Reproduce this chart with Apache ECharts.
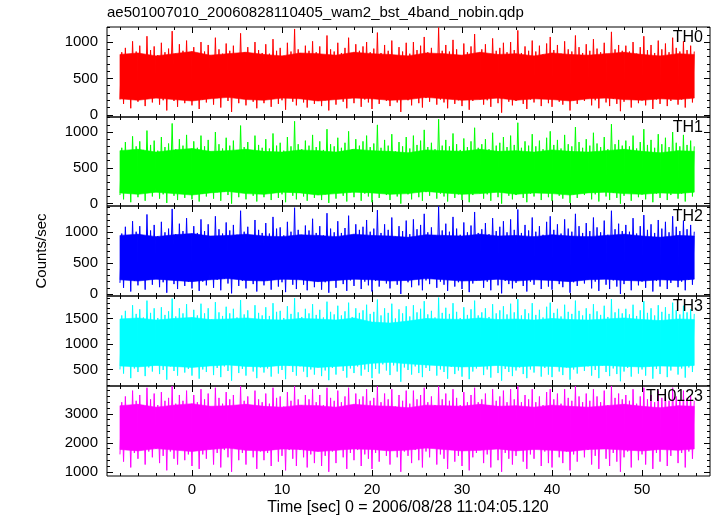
<!DOCTYPE html>
<html><head><meta charset="utf-8">
<script src="https://cdn.jsdelivr.net/npm/echarts@6/dist/echarts.min.js"></script>
<style>html,body{margin:0;padding:0;background:#fff}#c{width:717px;height:516px}</style>
</head><body><div id="c"></div>
<script>
const chartTitle = 'ae501007010_20060828110405_wam2_bst_4band_nobin.qdp';
const xTitle = 'Time [sec] 0 = 2006/08/28 11:04:05.120';
const yTitle = 'Counts/sec';
const bandNames = ['TH0', 'TH1', 'TH2', 'TH3', 'TH0123'];
const bandColors = ['#ff0000', '#00ff00', '#0000ff', '#00ffff', '#ff00ff'];
const tStart = -8;
const tStep = 0.2;      // step of the light-curve samples below (alternating bin low / bin high)
const coreStep = 2;     // step of the dense-core envelope samples
const tEnd = 55.8;

const th0 = [
210,860,150,920,260,800,90,1010,230,870,180,950,300,830,120,1080,240,890,170,940,
280,820,140,990,200,860,60,910,250,1150,190,840,110,970,270,880,160,1020,220,800,
130,930,260,850,80,1000,210,870,170,960,290,790,140,1060,230,900,100,840,250,980,
190,880,40,950,270,820,160,1120,220,860,130,930,300,810,180,1000,90,890,240,850,
160,970,230,840,110,1040,280,880,150,920,200,810,70,990,250,870,180,1180,130,900,
260,830,170,950,100,880,220,1010,150,860,290,940,120,820,200,1090,60,900,240,870,
140,990,270,850,180,920,90,1060,230,830,160,970,250,880,110,940,210,1000,170,860,
80,910,220,1130,150,850,280,960,190,880,120,1020,260,800,170,930,40,870,230,990,
200,840,130,1000,250,890,160,950,100,1070,230,860,180,920,280,830,140,1200,210,880,
170,960,90,870,240,1030,150,900,200,820,120,980,260,860,70,940,190,1110,230,850,
250,900,140,970,200,830,110,1050,270,880,160,920,30,990,220,860,180,1000,130,890,
190,1160,240,850,150,940,80,880,210,1020,170,870,290,950,120,830,230,980,160,1070,
110,890,260,960,180,840,140,1010,230,900,60,870,200,1090,150,930,270,850,190,970,
240,880,130,1040,200,910,90,860,260,990,170,830,120,1140,220,900,150,960,50,880,
180,950,230,870,100,1000,270,840,160,930,200,1080,130,890,250,960,80,850,210,1020,
150,900,240,980,120,860,190,1060,260,920,140,870,210,1010,100,890,230,950,170,870
];
const th1 = [
120,780,60,860,180,720,20,940,150,800,90,870,200,750,40,1020,160,820,100,880,
210,740,70,930,130,790,10,840,170,1120,110,760,50,900,190,810,80,960,140,730,
60,870,180,780,30,950,140,800,100,890,210,720,70,1000,160,830,40,770,170,920,
120,810,0,880,190,750,90,1090,150,790,60,860,220,740,110,950,30,820,170,780,
90,900,160,770,50,980,200,810,80,850,130,740,20,930,180,800,110,1150,60,830,
180,760,100,880,40,810,150,960,80,790,210,870,50,750,130,1040,10,830,170,800,
70,920,190,780,110,850,30,1010,160,760,90,900,180,810,40,870,140,950,100,790,
20,840,150,1100,80,780,200,890,120,810,50,970,190,730,100,860,0,800,160,930,
130,770,60,950,180,820,90,880,40,1030,160,790,110,850,210,760,70,1180,140,810,
100,890,30,800,170,980,80,830,130,750,50,910,190,790,20,870,120,1060,160,780,
180,830,70,900,130,760,40,990,200,810,90,850,0,930,150,790,110,950,60,820,
120,1130,170,780,80,870,20,810,140,970,100,800,220,880,50,760,160,920,90,1010,
40,820,190,890,110,770,70,960,160,830,10,800,130,1070,80,860,200,780,120,900,
170,810,60,990,130,840,30,790,190,930,100,760,50,1110,150,830,80,890,0,810,
110,880,160,800,40,950,200,770,90,860,130,1040,60,820,180,890,20,780,140,970,
80,830,170,920,50,790,120,1000,190,850,70,800,140,960,30,820,160,880,100,800
];
const th2 = [
180,980,100,1090,260,920,40,1180,210,1010,140,1100,290,950,70,1290,230,1030,150,1120,
300,940,110,1170,190,1000,20,1060,250,1380,160,970,80,1140,280,1020,130,1230,200,930,
90,1100,270,990,50,1210,200,1020,140,1130,310,910,100,1260,230,1050,60,980,250,1160,
170,1030,10,1120,280,960,130,1350,210,1010,90,1090,320,940,160,1200,40,1040,240,990,
140,1150,220,980,70,1250,300,1060,120,1080,190,950,30,1170,260,1010,150,1400,80,1040,
260,960,150,1110,60,1030,210,1220,110,990,310,1100,70,950,190,1310,20,1060,230,1000,
100,1180,280,990,160,1070,50,1270,220,960,130,1130,250,1040,80,1090,200,1200,140,1010,
40,1060,210,1360,120,990,300,1130,170,1040,90,1240,270,930,150,1100,0,1020,230,1190,
190,970,110,1210,250,1050,140,1120,60,1300,220,1000,160,1080,300,950,100,1420,200,1030,
150,1140,50,1010,240,1250,120,1060,190,960,80,1160,270,1000,30,1110,170,1330,220,990,
260,1050,100,1150,200,970,60,1230,280,1020,140,1090,10,1180,210,1000,160,1210,90,1040,
180,1370,240,990,130,1120,40,1030,200,1240,150,1010,310,1100,80,960,230,1170,120,1260,
70,1040,270,1130,160,980,110,1210,230,1060,20,1010,190,1300,130,1100,280,990,170,1150,
240,1020,90,1240,200,1080,50,1000,260,1190,150,960,80,1350,220,1050,120,1140,0,1020,
160,1120,230,1010,60,1230,290,980,140,1100,200,1280,100,1040,250,1130,40,990,210,1200,
120,1060,250,1170,80,1000,180,1260,270,1090,110,1020,200,1190,60,1050,230,1120,150,1010
];
const th3 = [
500,1560,420,1650,580,1480,330,1760,520,1590,450,1680,610,1520,370,1850,540,1610,460,1700,
600,1510,410,1720,490,1570,300,1640,560,1890,470,1540,380,1700,590,1600,440,1780,510,1500,
380,1670,580,1560,320,1790,500,1600,450,1700,620,1480,390,1820,530,1620,350,1550,560,1730,
470,1600,280,1690,590,1520,430,1860,510,1580,380,1660,640,1490,460,1760,330,1610,540,1560,
440,1720,520,1550,360,1800,610,1630,420,1650,490,1510,310,1740,570,1590,450,1900,380,1620,
560,1530,460,1690,350,1600,500,1780,400,1570,620,1670,370,1520,480,1830,290,1630,530,1580,
400,1750,590,1560,470,1640,340,1810,520,1530,430,1700,560,1610,380,1660,500,1770,450,1590,
330,1630,510,1870,420,1560,600,1700,480,1610,390,1790,580,1500,460,1680,260,1600,540,1740,
490,1540,400,1760,560,1620,430,1690,350,1840,530,1580,470,1650,620,1520,380,1910,500,1610,
450,1710,320,1590,550,1800,410,1630,480,1510,360,1720,590,1570,310,1680,460,1850,520,1560,
570,1620,390,1700,500,1530,340,1780,610,1600,430,1660,280,1740,510,1580,450,1790,370,1620,
480,1880,540,1560,410,1680,330,1600,500,1800,440,1570,630,1670,360,1520,530,1730,400,1810,
350,1610,590,1690,460,1540,390,1770,540,1630,300,1590,500,1850,420,1650,610,1560,470,1700,
560,1590,380,1780,490,1640,330,1570,580,1750,450,1530,370,1880,520,1620,410,1690,270,1600,
460,1690,530,1580,360,1770,600,1550,420,1660,500,1840,380,1610,560,1700,320,1560,510,1760,
410,1630,570,1720,350,1590,480,1810,590,1660,400,1580,520,1750,340,1620,540,1680,450,1590
];
const th0123 = [
1600,3400,1350,3600,1750,3250,1150,3800,1650,3450,1450,3650,1850,3300,1250,3900,1700,3500,1500,3700,
1800,3300,1300,3750,1550,3450,1050,3550,1700,3950,1450,3350,1250,3650,1850,3450,1400,3800,1600,3250,
1200,3650,1750,3400,1100,3850,1600,3500,1450,3700,1900,3200,1250,3900,1650,3550,1150,3350,1750,3750,
1500,3500,1000,3650,1800,3300,1400,3950,1650,3450,1250,3600,1900,3250,1500,3800,1100,3500,1700,3400,
1400,3700,1650,3350,1200,3900,1850,3550,1350,3600,1550,3250,1050,3750,1750,3450,1450,3950,1200,3500,
1750,3300,1500,3650,1150,3500,1600,3850,1300,3400,1900,3650,1200,3300,1550,3900,1000,3550,1700,3450,
1300,3800,1800,3400,1500,3600,1100,3900,1650,3300,1400,3700,1750,3500,1200,3600,1600,3850,1450,3450,
1100,3550,1650,3950,1350,3400,1850,3700,1550,3500,1250,3850,1800,3250,1500,3650,1000,3450,1700,3800,
1550,3350,1300,3800,1750,3500,1400,3650,1150,3900,1700,3400,1500,3600,1900,3300,1250,3950,1600,3500,
1450,3700,1100,3450,1750,3850,1350,3550,1550,3300,1200,3750,1850,3400,1050,3650,1500,3900,1650,3400,
1800,3500,1300,3700,1600,3300,1150,3850,1900,3450,1400,3600,1000,3800,1650,3400,1450,3850,1250,3500,
1550,3950,1750,3400,1350,3650,1100,3500,1600,3850,1450,3400,1950,3600,1200,3300,1700,3750,1300,3850,
1150,3500,1800,3700,1500,3350,1300,3850,1700,3550,1050,3450,1600,3950,1350,3600,1850,3400,1500,3700,
1750,3450,1250,3850,1550,3600,1100,3400,1800,3800,1450,3300,1200,3950,1650,3550,1350,3700,1000,3500,
1500,3650,1700,3450,1150,3850,1850,3350,1400,3600,1600,3900,1250,3500,1750,3650,1100,3400,1650,3800,
1350,3550,1800,3750,1200,3450,1550,3900,1850,3600,1300,3450,1650,3800,1150,3550,1700,3650,1450,3450
];
const bandValues = [th0, th1, th2, th3, th0123];

// dense (fully overplotted) core of each light curve, every 2 s
const th0CoreLow  = [220,200,230,210,190,220,240,210,200,230,220,190,210,230,220,200,210,240,220,200,210,230,200,220,210,190,220,230,210,200,220,210,230];
const th0CoreHigh = [830,850,810,840,870,820,840,860,830,810,850,840,820,860,840,830,810,850,840,820,860,830,840,810,850,830,820,840,860,830,810,840,830];
const th1CoreLow  = [150,130,160,140,120,150,170,140,130,160,150,120,140,160,150,130,140,170,150,130,140,160,130,150,140,120,150,160,140,130,150,140,160];
const th1CoreHigh = [740,760,720,750,770,730,740,760,730,720,750,740,720,760,740,730,710,750,740,730,760,730,740,720,750,730,720,740,760,730,710,740,730];
const th2CoreLow  = [230,210,240,220,200,230,250,220,210,240,230,200,220,240,230,210,220,250,230,210,220,240,210,230,220,200,230,240,220,210,230,220,240];
const th2CoreHigh = [950,970,930,960,980,940,950,970,940,930,960,950,930,970,950,940,920,960,950,940,970,940,950,930,960,940,930,950,970,940,920,950,940];
const th3CoreLow  = [570,550,580,560,540,570,590,560,550,580,570,540,560,580,620,640,610,590,570,550,560,580,550,570,560,540,570,580,560,550,570,560,580];
const th3CoreHigh = [1490,1510,1470,1500,1520,1480,1490,1510,1480,1470,1500,1490,1470,1510,1430,1410,1450,1500,1490,1480,1510,1480,1490,1470,1500,1480,1470,1490,1510,1480,1460,1490,1480];
const th0123CoreLow  = [1770,1720,1800,1750,1700,1770,1820,1740,1720,1790,1770,1700,1740,1790,1770,1720,1750,1820,1770,1720,1740,1790,1720,1770,1740,1700,1770,1790,1750,1720,1770,1740,1790];
const th0123CoreHigh = [3280,3330,3230,3300,3350,3260,3280,3330,3260,3230,3300,3280,3230,3330,3280,3260,3210,3300,3280,3260,3330,3260,3280,3230,3300,3260,3230,3280,3330,3260,3210,3280,3260];
const coreLows = [th0CoreLow, th1CoreLow, th2CoreLow, th3CoreLow, th0123CoreLow];
const coreHighs = [th0CoreHigh, th1CoreHigh, th2CoreHigh, th3CoreHigh, th0123CoreHigh];

const xRange = [-9.44, 57.55];
const xMajorTicks = [0, 10, 20, 30, 40, 50];
const xMinorTicks = [-8, -6, -4, -2, 2, 4, 6, 8, 12, 14, 16, 18, 22, 24, 26, 28, 32, 34, 36, 38, 42, 44, 46, 48, 52, 54, 56];
const yRanges = [[-30, 1207], [-33, 1210], [-33, 1427], [176, 1941], [855, 3960]];
const yMajorTicks = [[0, 500, 1000], [0, 500, 1000], [0, 500, 1000], [500, 1000, 1500], [1000, 2000, 3000]];
const yMinorTicks = [
  [100, 200, 300, 400, 600, 700, 800, 900, 1100, 1200],
  [100, 200, 300, 400, 600, 700, 800, 900, 1100, 1200],
  [100, 200, 300, 400, 600, 700, 800, 900, 1100, 1200, 1300, 1400],
  [200, 300, 400, 600, 700, 800, 900, 1100, 1200, 1300, 1400, 1600, 1700, 1800, 1900],
  [1200, 1400, 1600, 1800, 2200, 2400, 2600, 2800, 3200, 3400, 3600, 3800]
];

// layout
const plotLeft = 107, plotRight = 7;
const panelTops = [27, 117, 206, 296, 386];
const panelHeights = [90, 89, 90, 90, 90];
const FONT = 'Liberation Sans';

const grids = [], xAxes = [], yAxes = [], series = [], graphics = [];
function tickStyle() { return { color: '#000', width: 1 }; }
const plain = v => String(v);

function coreItem(color) {
  return function (params, api) {
    const a0 = api.coord([api.value(0), api.value(1)]);
    const b0 = api.coord([api.value(3), api.value(4)]);
    const b1 = api.coord([api.value(3), api.value(5)]);
    const a1 = api.coord([api.value(0), api.value(2)]);
    return { type: 'polygon', shape: { points: [a0, b0, b1, a1] },
      style: { fill: color, stroke: color, lineWidth: 0.6 } };
  };
}

for (let i = 0; i < 5; i++) {
  grids.push({ left: plotLeft, right: plotRight, top: panelTops[i], height: panelHeights[i],
    show: true, borderColor: '#000', borderWidth: 1, backgroundColor: 'transparent', containLabel: false });
  const last = i === 4;
  const xDefs = [
    ['bottom', xMajorTicks, 6, last],
    ['top', xMajorTicks, 6, false],
    ['bottom', xMinorTicks, 3, false],
    ['top', xMinorTicks, 3, false]
  ];
  xDefs.forEach(d => {
    xAxes.push({ gridIndex: i, type: 'value', position: d[0], min: xRange[0], max: xRange[1],
      axisLine: { show: false, onZero: false }, splitLine: { show: false },
      axisTick: { show: true, inside: true, length: d[2], customValues: d[1], lineStyle: tickStyle() },
      axisLabel: { show: d[3], customValues: d[1], margin: 6, color: '#000', fontSize: 15, fontFamily: FONT, formatter: plain }
    });
  });
  const yDefs = [
    ['left', yMajorTicks[i], 6, true],
    ['right', yMajorTicks[i], 6, false],
    ['left', yMinorTicks[i], 3, false],
    ['right', yMinorTicks[i], 3, false]
  ];
  yDefs.forEach(d => {
    yAxes.push({ gridIndex: i, type: 'value', position: d[0], min: yRanges[i][0], max: yRanges[i][1],
      axisLine: { show: false, onZero: false }, splitLine: { show: false },
      axisTick: { show: true, inside: true, length: d[2], customValues: d[1], lineStyle: tickStyle() },
      axisLabel: { show: d[3], customValues: d[1], margin: 9, color: '#000', fontSize: 15, fontFamily: FONT, formatter: plain }
    });
  });
  const coreT = k => Math.min(tStart + k * coreStep, tEnd);
  const lows = coreLows[i], highs = coreHighs[i];
  const segs = [];
  for (let k = 0; k + 1 < lows.length; k++) {
    segs.push([coreT(k), lows[k], highs[k], coreT(k + 1), lows[k + 1], highs[k + 1]]);
  }
  series.push({
    type: 'custom', xAxisIndex: 4 * i, yAxisIndex: 4 * i, data: segs,
    renderItem: coreItem(bandColors[i]), encode: { x: [0, 3], y: [1, 2, 4, 5] },
    animation: false, silent: true, clip: true
  });
  series.push({
    type: 'line', xAxisIndex: 4 * i, yAxisIndex: 4 * i,
    data: bandValues[i].map((v, k) => [tStart + k * tStep, v]),
    showSymbol: false, symbol: 'none', clip: true, animation: false,
    lineStyle: { color: bandColors[i], width: 1 }, itemStyle: { color: bandColors[i] },
    emphasis: { disabled: true }, silent: true
  });
  graphics.push({ type: 'text', x: 703, y: panelTops[i] + 3, z: 100,
    style: { text: bandNames[i], align: 'right', verticalAlign: 'top', fill: '#000', font: '16px "' + FONT + '"' } });
}
graphics.push({ type: 'text', x: 107, y: 5,
  style: { text: chartTitle, align: 'left', verticalAlign: 'top', fill: '#000', font: '15px "' + FONT + '"' } });
graphics.push({ type: 'text', x: 408, y: 508,
  style: { text: xTitle, align: 'center', verticalAlign: 'middle', fill: '#000', font: '16px "' + FONT + '"' } });
graphics.push({ type: 'text', x: 42, y: 251, rotation: Math.PI / 2,
  style: { text: yTitle, align: 'center', verticalAlign: 'middle', fill: '#000', font: '15px "' + FONT + '"' } });

const chart = echarts.init(document.getElementById('c'), null, { renderer: 'canvas' });
chart.setOption({
  animation: false,
  backgroundColor: '#fff',
  grid: grids, xAxis: xAxes, yAxis: yAxes, series: series, graphic: graphics
});
</script></body></html>
